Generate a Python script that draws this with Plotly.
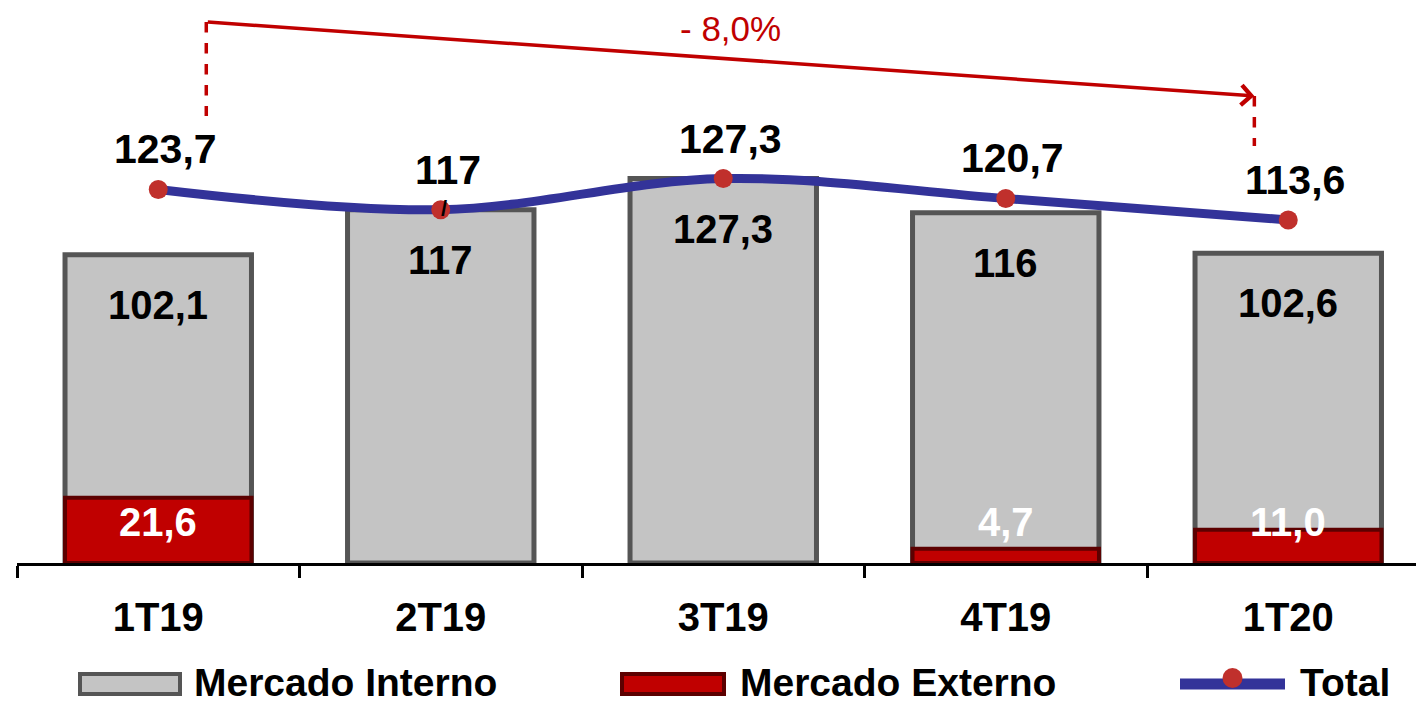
import plotly.graph_objects as go

# ---------------- data ----------------
categories = ["1T19", "2T19", "3T19", "4T19", "1T20"]
mercado_interno = [102.1, 117.0, 127.3, 116.0, 102.6]
mercado_externo = [21.6, 0.0, 0.0, 4.7, 11.0]
total = [123.7, 117.0, 127.3, 120.7, 113.6]
series_names = ["Mercado Interno", "Mercado Externo", "Total"]
variation_label = "- 8,0%"

# ---------------- helpers / style ----------------
FONT = "Liberation Sans, Arial, sans-serif"
W, H = 1416, 704
ML, MB = 17, 141
PLOT_W = W - ML
PLOT_H = H - MB
CAT_PX = 282.5
PX_PER_UNIT = 3.02
GRAY = "#c4c4c4"
GRAY_EDGE = "#555555"
RED = "#c00000"
RED_EDGE = "#5c0000"
BLUE = "#333399"
MARKER_RED = "#c0302c"
ARROW_RED = "#c00000"


def fmt_trim(v):
    return str(int(round(v))) if abs(v - round(v)) < 1e-9 else f"{v:.1f}".replace(".", ",")


def fmt_one(v):
    return f"{v:.1f}".replace(".", ",")


def px_to_paper_x(px):
    return (px - ML) / PLOT_W


def px_to_paper_y(py):
    return (PLOT_H - py) / PLOT_H


def px_to_data_y(py):
    return (PLOT_H - py) / PX_PER_UNIT


xs = list(range(len(categories)))
x_max = (PLOT_W / CAT_PX) - 0.5
y_max = PLOT_H / PX_PER_UNIT
boundaries = [i - 0.5 for i in range(len(categories) + 1)]

fig = go.Figure()

fig.add_bar(
    x=xs, y=mercado_interno, width=0.66, name=series_names[0],
    marker=dict(color=GRAY, line=dict(color=GRAY_EDGE, width=5)),
)
fig.add_bar(
    x=xs, y=[v if v else None for v in mercado_externo], width=0.66, name=series_names[1],
    marker=dict(color=RED, line=dict(color=RED_EDGE, width=4)),
)
fig.add_scatter(
    x=xs, y=total, mode="lines+markers", name=series_names[2],
    line=dict(color=BLUE, width=9, shape="spline", smoothing=1),
    marker=dict(color=MARKER_RED, size=19),
)

annotations = []
bold = dict(family=FONT, size=40, color="black", weight="bold")

for i, v in enumerate(mercado_interno):
    annotations.append(dict(x=xs[i], y=v, text=fmt_trim(v), showarrow=False,
                            yshift=-50, font=bold))

EXT_LABEL_Y = 13.5
for i, v in enumerate(mercado_externo):
    if v:
        annotations.append(dict(x=xs[i], y=EXT_LABEL_Y, text=fmt_one(v), showarrow=False,
                                font=dict(family=FONT, size=40, color="white", weight="bold")))

for i, v in enumerate(total):
    annotations.append(dict(x=xs[i], y=v, text=fmt_trim(v), showarrow=False,
                            yshift=40, xshift=7, font=dict(family=FONT, size=41, color="black", weight="bold")))

# small leader mark under the 2T19 total label
annotations.append(dict(x=xs[1], y=total[1], text="/", showarrow=False, yshift=1, xshift=3,
                        font=dict(family=FONT, size=22, color="black", weight="bold")))

# variation arrow
x_start = xs[0] + 0.17
x_end = xs[-1] - 0.12
y_start = px_to_data_y(22)
y_end = px_to_data_y(96)
annotations.append(dict(x=x_end, y=y_end, ax=x_start, ay=y_start, axref="x", ayref="y",
                        xref="x", yref="y", text="", showarrow=True, arrowhead=4,
                        arrowsize=1.1, arrowwidth=3.5, arrowcolor=ARROW_RED, standoff=0))
annotations.append(dict(x=(x_start + x_end) / 2, y=px_to_data_y(28), text=variation_label,
                        showarrow=False, font=dict(family=FONT, size=35, color=ARROW_RED)))

shapes = [
    dict(type="line", xref="x", yref="y", x0=x_start, x1=x_start, y0=y_start,
         y1=px_to_data_y(116), line=dict(color=ARROW_RED, width=3.5, dash="dash")),
    dict(type="line", xref="x", yref="y", x0=x_end, x1=x_end, y0=y_end,
         y1=px_to_data_y(146), line=dict(color=ARROW_RED, width=3.5, dash="dash")),
]

# ---------------- custom legend ----------------
LEG_SYM_Y = 684
LEG_TXT_Y = 682
leg_items = [
    (80, 180, 192, "bar", GRAY, GRAY_EDGE),
    (622, 724, 738, "bar", RED, RED_EDGE),
    (1180, 1285, 1298, "line", BLUE, MARKER_RED),
]
for (sx0, sx1, tx, kind, c1, c2), name in zip(leg_items, series_names):
    if kind == "bar":
        shapes.append(dict(type="rect", xref="paper", yref="paper",
                           x0=px_to_paper_x(sx0), x1=px_to_paper_x(sx1),
                           y0=px_to_paper_y(LEG_SYM_Y - 10), y1=px_to_paper_y(LEG_SYM_Y + 10),
                           fillcolor=c1, line=dict(color=c2, width=4)))
    else:
        shapes.append(dict(type="line", xref="paper", yref="paper",
                           x0=px_to_paper_x(sx0), x1=px_to_paper_x(sx1),
                           y0=px_to_paper_y(LEG_SYM_Y), y1=px_to_paper_y(LEG_SYM_Y),
                           line=dict(color=c1, width=11)))
        cx = (sx0 + sx1) / 2
        shapes.append(dict(type="circle", xref="paper", yref="paper",
                           x0=px_to_paper_x(cx - 10), x1=px_to_paper_x(cx + 10),
                           y0=px_to_paper_y(LEG_SYM_Y - 16), y1=px_to_paper_y(LEG_SYM_Y + 4),
                           fillcolor=c2, line=dict(width=0)))
    annotations.append(dict(x=px_to_paper_x(tx), y=px_to_paper_y(LEG_TXT_Y), xref="paper", yref="paper",
                            xanchor="left", yanchor="middle", text=name, showarrow=False,
                            font=dict(family=FONT, size=39, color="black", weight="bold")))

fig.update_layout(
    width=W, height=H,
    margin=dict(l=ML, r=0, t=0, b=MB, pad=0),
    paper_bgcolor="white", plot_bgcolor="white",
    barmode="overlay", showlegend=False,
    annotations=annotations, shapes=shapes,
    xaxis=dict(
        range=[-0.5, x_max], tickmode="array", tickvals=xs, ticktext=categories,
        ticks="", showline=True, linecolor="black", linewidth=3,
        showgrid=False, zeroline=False, ticklabelstandoff=17,
        tickfont=dict(family=FONT, size=40, color="black", weight="bold"),
        minor=dict(tickmode="array", tickvals=boundaries, ticks="outside", ticklen=12,
                   tickwidth=3, tickcolor="black", showgrid=False),
    ),
    xaxis2=dict(
        overlaying="x", anchor="y", side="bottom", range=[-0.5, x_max],
        tickmode="array", tickvals=boundaries, ticks="inside", ticklen=11,
        tickwidth=3, tickcolor="black", showticklabels=False, showline=False,
        showgrid=False, zeroline=False,
    ),
    yaxis=dict(range=[0, y_max], visible=False),
)

fig.write_html("out.html", config={"displayModeBar": False},
               post_script="document.body.style.margin='0px';document.body.style.overflow='hidden';")
